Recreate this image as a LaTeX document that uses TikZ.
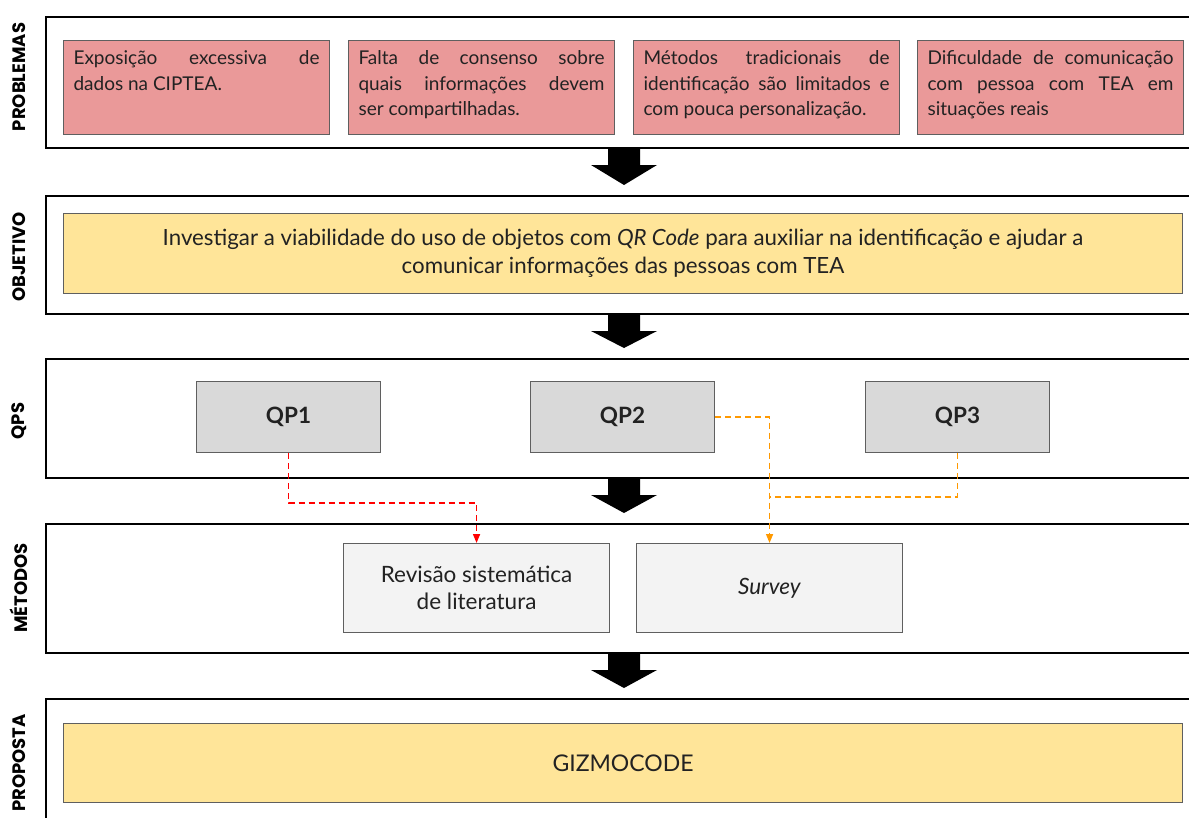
\documentclass[tikz,border=0pt]{standalone}
\usepackage{fontspec}
\setmainfont{Lato}
\newfontfamily\labfont{Poppins}
\usetikzlibrary{arrows.meta,calc}
\definecolor{probfill}{HTML}{EA9999}
\definecolor{objfill}{HTML}{FFE599}
\definecolor{qpfill}{HTML}{D9D9D9}
\definecolor{metfill}{HTML}{F3F3F3}
\definecolor{boxline}{HTML}{5F5F5F}
\definecolor{txt}{HTML}{222222}
\definecolor{dashred}{HTML}{FF0000}
\definecolor{dashorange}{HTML}{FF9900}
\newcommand\spreadline[1]{\makebox[\linewidth][s]{#1}}
\newcommand\bigdownarrow[2]{%
  \fill[black] ([xshift=-16pt]#1.south) -- ([xshift=16pt]#1.south) -- ++(0,16) -- ++(17,0)
    -- ([yshift=10pt]#2.north) -- ($([xshift=-16pt]#1.south)+(-17,16)$) -- ($([xshift=-16pt]#1.south)+(0,16)$) -- cycle;}
\begin{document}
\begin{tikzpicture}[x=1pt,y=-1pt,
  frame/.style={draw=black,line width=2pt,fill=white,anchor=north west,minimum width=1156pt,inner sep=0pt},
  probbox/.style={draw=boxline,line width=1.1pt,fill=probfill,anchor=north west,minimum width=266pt,minimum height=94pt,inner xsep=10pt,inner ysep=0pt,text=txt,font=\fontsize{19}{25.5}\selectfont},
  objbox/.style={draw=boxline,line width=1.1pt,fill=objfill,anchor=north west,minimum width=1119pt,text=txt,align=center},
  qpbox/.style={draw=boxline,line width=1.1pt,fill=qpfill,anchor=north west,minimum width=184pt,minimum height=71pt,text=txt,font=\fontsize{22.5}{26}\selectfont\bfseries},
  metbox/.style={draw=boxline,line width=1.1pt,fill=metfill,anchor=north west,minimum width=266pt,minimum height=89pt,text=txt,align=center,font=\fontsize{22.5}{27}\selectfont},
  sidelabel/.style={rotate=90,font=\labfont\bfseries\fontsize{18}{20}\selectfont,text=black,inner sep=0pt},
  reddash/.style={draw=dashred,line width=1.5pt,dash pattern=on 6pt off 4pt,-{Triangle[width=7pt,length=9pt]}},
  orangedash/.style={draw=dashorange,line width=1.5pt,dash pattern=on 6pt off 4pt},
]
\useasboundingbox (0,0) rectangle (1189,817);
\clip (0,0) rectangle (1189,817);
\fill[white] (0,0) rectangle (1189,817);

% frames
\node[frame,minimum height=131pt] (f1) at (45,16) {};
\node[frame,minimum height=118pt] (f2) at (45,195) {};
\node[frame,minimum height=119pt] (f3) at (45,358) {};
\node[frame,minimum height=129pt] (f4) at (45,523) {};
\node[frame,minimum height=150pt] (f5) at (45,698) {};

% side labels
\node[sidelabel] (l1) at (19,77) {PROBLEMAS};
\node[sidelabel] (l2) at (19,257) {OBJETIVO};
\node[sidelabel] (l3) at (19,421) {QPS};
\node[sidelabel] (l4) at (19,588) {MÉTODOS};
\node[sidelabel] (l5) at (19,763) {PROPOSTA};

% problems
\node[probbox] (p1) at (63,40) {\parbox[c][74pt][t]{246pt}{\spreadline{Exposição excessiva de}\\dados na CIPTEA.}};
\node[probbox] (p2) at (348,40) {\parbox[c][74pt][t]{246pt}{\spreadline{Falta de consenso sobre}\\\spreadline{quais informações devem}\\ser compartilhadas.}};
\node[probbox] (p3) at (633,40) {\parbox[c][74pt][t]{246pt}{\spreadline{Métodos tradicionais de}\\\spreadline{identificação são limitados e}\\com pouca personalização.}};
\node[probbox] (p4) at (917,40) {\parbox[c][74pt][t]{246pt}{\spreadline{Dificuldade de comunicação}\\\spreadline{com pessoa com TEA em}\\situações reais}};

% objective
\node[objbox,minimum height=80pt,font=\fontsize{22.3}{28}\selectfont] (obj) at (63,213) {Investigar a viabilidade do uso de objetos com \textit{QR Code} para auxiliar na identificação e ajudar a\\comunicar informações das pessoas com TEA};

% QPs
\node[qpbox] (qp1) at (196,381) {QP1};
\node[qpbox] (qp2) at (530,381) {QP2};
\node[qpbox] (qp3) at (865,381) {QP3};

% methods
\node[metbox] (rev) at (343,543) {Revisão sistemática\\de literatura};
\node[metbox] (surv) at (636,543) {\textit{Survey}};

% proposal
\node[objbox,minimum height=79pt,font=\fontsize{23}{27}\selectfont] (giz) at (63,723) {GIZMOCODE};

% big arrows
\bigdownarrow{f1}{f2}
\bigdownarrow{f2}{f3}
\bigdownarrow{f3}{f4}
\bigdownarrow{f4}{f5}

% dashed connectors
\coordinate (jn) at ($(surv.north)+(0,-46)$);
\draw[reddash] (qp1.south) -- ++(0,50) -| (rev.north);
\draw[orangedash] (qp3.south) |- (jn);
\draw[orangedash,-{Triangle[width=7pt,length=9pt]}] (qp2.east) -| (surv.north);
\end{tikzpicture}
\end{document}
